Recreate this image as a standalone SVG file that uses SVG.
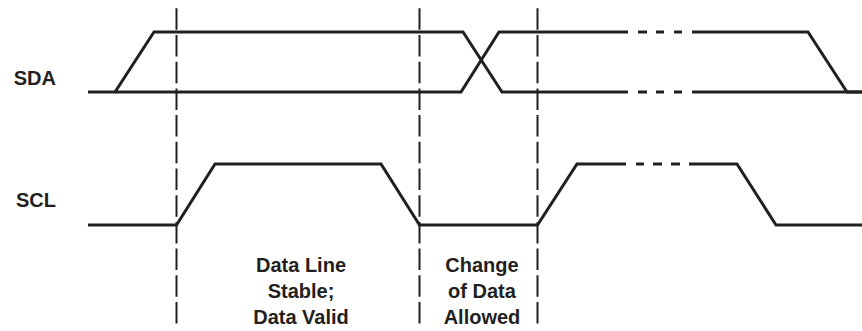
<svg xmlns="http://www.w3.org/2000/svg" width="862" height="331" viewBox="0 0 862 331">
<style>
.sig{fill:none;stroke:#231f20;stroke-width:3;stroke-linejoin:miter}
.dot{fill:none;stroke:#231f20;stroke-width:3}
.vl{fill:none;stroke:#231f20;stroke-width:2;stroke-dasharray:21.5 5.2}
.lbl{font-family:"Liberation Sans",Arial,Helvetica,sans-serif;font-weight:bold;font-size:20px;fill:#231f20}
</style>
<rect width="862" height="331" fill="#ffffff"/>
<g id="guides">
<line class="vl" x1="176.5" y1="8.3" x2="176.5" y2="324"/>
<line class="vl" x1="419.5" y1="8.3" x2="419.5" y2="324"/>
<line class="vl" x1="537.5" y1="8.3" x2="537.5" y2="324"/>
</g>
<g id="sda">
<text class="lbl" x="56" y="85" text-anchor="end">SDA</text>
<path class="sig" d="M88 92 H115 L154 32 H463 L502 92 H628"/>
<path class="sig" d="M115 92 H461 L499 32 H628"/>
<path class="dot" d="M638 32 H647 M656 32 H664 M674 32 H682 M638 92 H647 M656 92 H664 M674 92 H682"/>
<path class="sig" d="M692 32 H808 L847 92 H862"/>
<path class="sig" d="M692 92 H862"/>
</g>
<g id="scl">
<text class="lbl" x="56" y="207" text-anchor="end">SCL</text>
<path class="sig" d="M88 225 H176.5 L215 164 H381 L419.5 225 H537.5 L577 164 H626"/>
<path class="dot" d="M636 164 H644 M653 164 H662 M671 164 H680"/>
<path class="sig" d="M689 164 H737 L776 225 H862"/>
</g>
<g id="label-stable">
<text class="lbl" text-anchor="middle"><tspan x="301" y="272">Data Line</tspan><tspan x="301" y="298">Stable;</tspan><tspan x="301" y="324">Data Valid</tspan></text>
</g>
<g id="label-change">
<text class="lbl" text-anchor="middle"><tspan x="482" y="272">Change</tspan><tspan x="482" y="298">of Data</tspan><tspan x="482" y="324">Allowed</tspan></text>
</g>
</svg>
